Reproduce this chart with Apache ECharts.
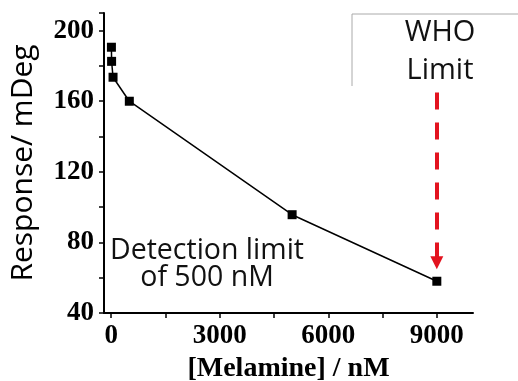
<!DOCTYPE html>
<html>
<head>
<meta charset="utf-8">
<script src="https://cdn.jsdelivr.net/npm/echarts@6/dist/echarts.min.js"></script>
<style>
html, body { margin: 0; padding: 0; background: #fff; }
#container { width: 518px; height: 381px; }
</style>
</head>
<body>
<div id="container"></div>
<script>
// data
const concentration = [5, 10, 50, 500, 5000, 9000];
const response = [190.6, 182.6, 173.6, 160, 95.7, 58];
const xLabels = [0, 3000, 6000, 9000];
const xTicks = [0, 1500, 3000, 4500, 6000, 7500, 9000];

const dom = document.getElementById('container');
const chart = echarts.init(dom);

const serif = '"Liberation Serif", "Times New Roman", serif';
const sans = '"Open Sans", "Noto Sans", sans-serif';

chart.setOption({
    animation: false,
    grid: { left: 104, right: 45, top: 13, bottom: 68, outerBoundsMode: 'none' },
    xAxis: {
        type: 'value',
        min: -200,
        max: 10000,
        name: '[Melamine] / nM',
        nameLocation: 'middle',
        nameGap: 40,
        nameTextStyle: { fontFamily: serif, fontWeight: 'bold', fontSize: 28, color: '#000' },
        splitLine: { show: false },
        axisLine: { onZero: false, lineStyle: { color: '#000', width: 2 } },
        axisTick: { show: true, customValues: xTicks, length: 5, lineStyle: { color: '#000', width: 1.5 } },
        axisLabel: {
            customValues: xLabels, fontFamily: serif, fontWeight: 'bold', fontSize: 27, color: '#000', margin: 10,
            formatter: function (v) { return String(v); }
        }
    },
    yAxis: {
        type: 'value',
        min: 40,
        max: 210,
        interval: 20,
        name: 'Response/ mDeg',
        nameLocation: 'middle',
        nameGap: 66,
        nameTextStyle: { fontFamily: sans, fontSize: 30, color: '#000' },
        splitLine: { show: false },
        axisLine: { show: true, onZero: false, lineStyle: { color: '#000', width: 2 } },
        axisTick: { show: true, length: 5, lineStyle: { color: '#000', width: 1.5 } },
        axisLabel: {
            fontFamily: serif, fontWeight: 'bold', fontSize: 27, color: '#000', margin: 10,
            formatter: function (v) { return v % 40 === 0 ? String(v) : ''; }
        }
    },
    series: [{
        type: 'line',
        data: concentration.map((c, i) => [c, response[i]]),
        symbol: 'rect',
        symbolSize: 9,
        itemStyle: { color: '#000' },
        lineStyle: { color: '#000', width: 1.5 },
        markLine: {
            silent: true,
            symbol: ['none', 'triangle'],
            symbolSize: [13, 13],
            label: { show: false },
            lineStyle: { color: '#e3131f', width: 4, type: [17, 13], opacity: 1 },
            data: [[{ coord: [9000, 165] }, { coord: [9000, 68.5] }]]
        }
    }],
    graphic: [
        {
            type: 'polyline',
            shape: { points: [[352, 86], [352, 14], [520, 14]] },
            style: { fill: null, stroke: '#aaa', lineWidth: 1 }
        },
        {
            type: 'text',
            x: 440, y: 33,
            style: { text: 'WHO', fontFamily: sans, fontSize: 29, fill: '#111', align: 'center', verticalAlign: 'middle' }
        },
        {
            type: 'text',
            x: 440, y: 71,
            style: { text: 'Limit', fontFamily: sans, fontSize: 29, fill: '#111', align: 'center', verticalAlign: 'middle' }
        },
        {
            type: 'text',
            x: 207, y: 251,
            style: { text: 'Detection limit', fontFamily: sans, fontSize: 28.5, fill: '#111', align: 'center', verticalAlign: 'middle' }
        },
        {
            type: 'text',
            x: 207, y: 278,
            style: { text: 'of 500 nM', fontFamily: sans, fontSize: 28.5, fill: '#111', align: 'center', verticalAlign: 'middle' }
        }
    ]
});
</script>
</body>
</html>
